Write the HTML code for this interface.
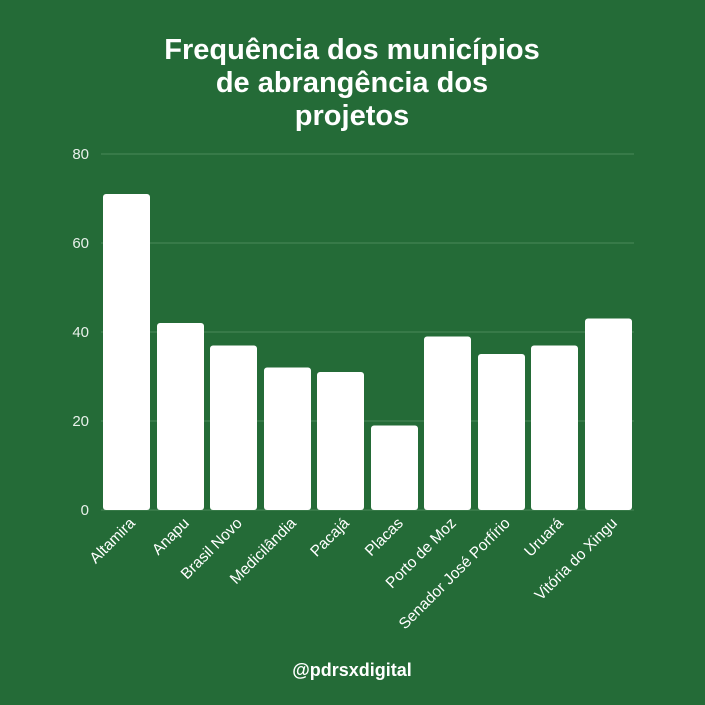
<!DOCTYPE html>
<html><head><style>
html,body{margin:0;padding:0;background:#246b37;overflow:hidden;}
svg{display:block;}
</style></head><body>
<svg width="705" height="705" xmlns="http://www.w3.org/2000/svg" font-family="Liberation Sans, DejaVu Sans, sans-serif">
<rect width="705" height="705" fill="#246b37"/>
<g fill="#fff" font-weight="bold" font-size="29" text-anchor="middle">
<text x="352" y="59">Frequência dos municípios</text>
<text x="352" y="92">de abrangência dos</text>
<text x="352" y="125">projetos</text>
</g>
<g stroke="#4a8a5a" stroke-width="1">
<line x1="101" y1="154" x2="634" y2="154"/>
<line x1="101" y1="243" x2="634" y2="243"/>
<line x1="101" y1="332" x2="634" y2="332"/>
<line x1="101" y1="421" x2="634" y2="421"/>
<line x1="101" y1="510" x2="634" y2="510"/>
</g>
<g fill="#e8f0ea" font-size="15" text-anchor="end">
<text x="89" y="159">80</text>
<text x="89" y="248">60</text>
<text x="89" y="337">40</text>
<text x="89" y="426">20</text>
<text x="89" y="515">0</text>
</g>
<g fill="#fff">
<rect x="103" y="194" width="47" height="316" rx="3"/>
<rect x="157" y="323" width="47" height="187" rx="3"/>
<rect x="210" y="345.5" width="47" height="164.5" rx="3"/>
<rect x="264" y="367.5" width="47" height="142.5" rx="3"/>
<rect x="317" y="372" width="47" height="138" rx="3"/>
<rect x="371" y="425.5" width="47" height="84.5" rx="3"/>
<rect x="424" y="336.5" width="47" height="173.5" rx="3"/>
<rect x="478" y="354" width="47" height="156" rx="3"/>
<rect x="531" y="345.5" width="47" height="164.5" rx="3"/>
<rect x="585" y="318.5" width="47" height="191.5" rx="3"/>
</g>
<g fill="#fff" font-size="15.5" text-anchor="end">
<text transform="translate(136,524) rotate(-45)">Altamira</text>
<text transform="translate(190,524) rotate(-45)">Anapu</text>
<text transform="translate(243,524) rotate(-45)">Brasil Novo</text>
<text transform="translate(297,524) rotate(-45)">Medicilândia</text>
<text transform="translate(350,524) rotate(-45)">Pacajá</text>
<text transform="translate(404,524) rotate(-45)">Placas</text>
<text transform="translate(457,524) rotate(-45)">Porto de Moz</text>
<text transform="translate(511,524) rotate(-45)">Senador José Porfírio</text>
<text transform="translate(564,524) rotate(-45)">Uruará</text>
<text transform="translate(618,524) rotate(-45)">Vitória do Xingu</text>
</g>
<text x="352" y="676" fill="#fff" font-weight="bold" font-size="18" text-anchor="middle">@pdrsxdigital</text>
</svg>
</body></html>
